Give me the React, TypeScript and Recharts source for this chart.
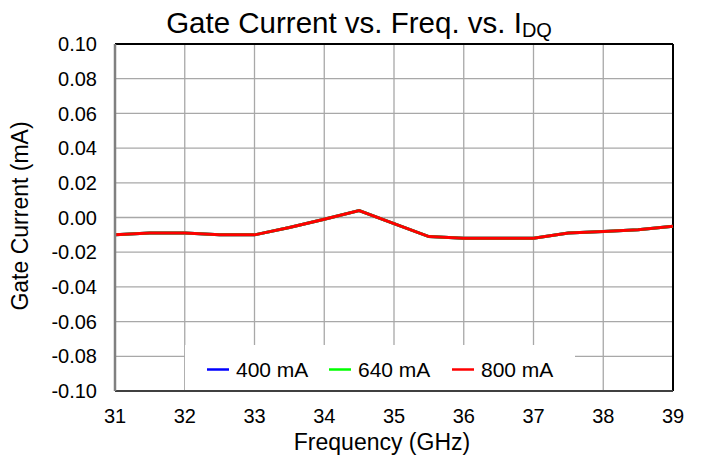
import React from "react";
import { LineChart, Line, XAxis, YAxis, CartesianGrid, ReferenceLine } from "recharts";

const frequencies = [31, 31.5, 32, 32.5, 33, 33.5, 34, 34.5, 35, 35.5, 36, 36.5, 37, 37.5, 38, 38.5, 39];
const current400 = [-0.01, -0.009, -0.009, -0.01, -0.01, -0.0058, -0.001, 0.004, -0.0035, -0.011, -0.012, -0.012, -0.012, -0.009, -0.008, -0.007, -0.005];
const current640 = [-0.01, -0.009, -0.009, -0.01, -0.01, -0.0058, -0.001, 0.004, -0.0035, -0.011, -0.012, -0.012, -0.012, -0.009, -0.008, -0.007, -0.005];
const current800 = [-0.01, -0.009, -0.009, -0.01, -0.01, -0.0058, -0.001, 0.004, -0.0035, -0.011, -0.012, -0.012, -0.012, -0.009, -0.008, -0.007, -0.005];
const xTicks = [31, 32, 33, 34, 35, 36, 37, 38, 39];
const yTicks = [-0.1, -0.08, -0.06, -0.04, -0.02, 0, 0.02, 0.04, 0.06, 0.08, 0.1];
const seriesNames = ["400 mA", "640 mA", "800 mA"];
const seriesColors = ["#0000ff", "#00ff00", "#ff0000"];

const data = frequencies.map((f, i) => ({
  f,
  a: current400[i],
  b: current640[i],
  c: current800[i],
}));

const FONT = "'Liberation Sans', Arial, Helvetica, sans-serif";

export default function App() {
  const legendLineX = [207, 329, 452];
  const legendTextX = [236, 358, 481];
  return (
    <div style={{ position: "fixed", left: 0, top: 0, width: 702, height: 456, background: "#fff", fontFamily: FONT }}>
      <LineChart width={702} height={456} data={data} margin={{ top: 44, right: 29, bottom: 35, left: 55 }}>
        <CartesianGrid stroke="#a8a8a8" strokeWidth={1.3} />
        <XAxis
          dataKey="f"
          type="number"
          domain={[31, 39]}
          ticks={xTicks}
          height={30}
          tickSize={0}
          tickMargin={18}
          tick={{ fill: "#000", fontSize: 20, fontFamily: FONT }}
          axisLine={{ stroke: "#404040", strokeWidth: 2 }}
          tickLine={false}
        />
        <YAxis
          type="number"
          domain={[-0.1, 0.1]}
          ticks={yTicks}
          width={60}
          tickSize={0}
          tickMargin={18}
          tickFormatter={(v: number) => (Math.abs(v) < 1e-9 ? "0.00" : v.toFixed(2))}
          tick={{ fill: "#000", fontSize: 20, fontFamily: FONT }}
          axisLine={{ stroke: "#808080", strokeWidth: 2.5 }}
          tickLine={false}
        />
        <ReferenceLine y={0.1} stroke="#000" strokeWidth={2} />
        <ReferenceLine x={39} stroke="#000" strokeWidth={2} />
        <Line type="linear" dataKey="a" name={seriesNames[0]} stroke={seriesColors[0]} strokeWidth={3} dot={false} isAnimationActive={false} />
        <Line type="linear" dataKey="b" name={seriesNames[1]} stroke={seriesColors[1]} strokeWidth={3} dot={false} isAnimationActive={false} />
        <Line type="linear" dataKey="c" name={seriesNames[2]} stroke={seriesColors[2]} strokeWidth={3} dot={false} isAnimationActive={false} />
      </LineChart>
      <svg width={702} height={456} style={{ position: "absolute", left: 0, top: 0, pointerEvents: "none" }} fontFamily={FONT}>
        <text x={359} y={33} textAnchor="middle" fontSize={29.5} fill="#000">
          Gate Current vs. Freq. vs. I
          <tspan fontSize={20} dy={4}>DQ</tspan>
        </text>
        <text x={382} y={450} textAnchor="middle" fontSize={23} fill="#000">
          Frequency (GHz)
        </text>
        <text x={28} y={216} textAnchor="middle" fontSize={23} fill="#000" transform="rotate(-90 28 216)">
          Gate Current (mA)
        </text>
        <rect x={185} y={345} width={390} height={45} fill="#fff" />
        {seriesNames.map((n, i) => (
          <g key={n}>
            <line x1={legendLineX[i]} x2={legendLineX[i] + 22} y1={369.5} y2={369.5} stroke={seriesColors[i]} strokeWidth={2.5} />
            <text x={legendTextX[i]} y={377} fontSize={21} fill="#000">
              {n}
            </text>
          </g>
        ))}
      </svg>
    </div>
  );
}
